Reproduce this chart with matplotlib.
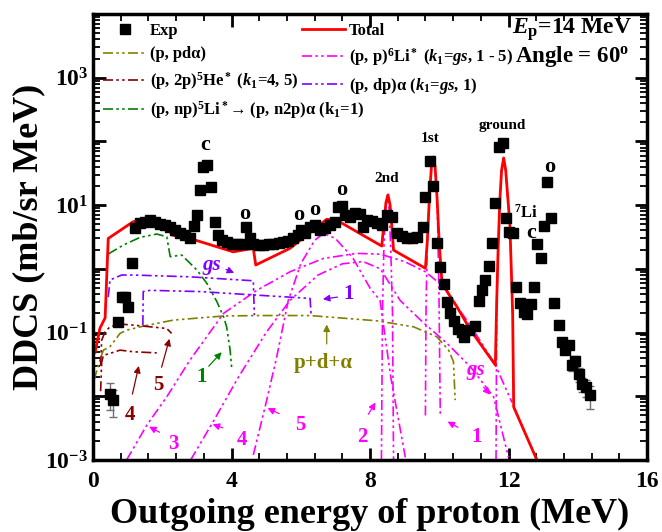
import matplotlib
matplotlib.use("Agg")
import matplotlib.pyplot as plt
from matplotlib.lines import Line2D
from matplotlib.ticker import LogLocator, MultipleLocator, NullFormatter

plt.rcParams.update({
    "font.family": "Liberation Serif",
    "font.weight": "bold",
    "mathtext.fontset": "custom",
    "mathtext.rm": "Liberation Serif:bold",
    "mathtext.it": "Liberation Serif:bold:italic",
    "mathtext.bf": "Liberation Serif:bold",
})

# experimental data (MeV, mb/sr MeV)
exp_x = [0.49, 0.59, 0.71, 0.83, 0.92, 1.02, 1.12,
         1.21, 1.36, 1.50, 1.65, 1.79, 1.94, 2.08, 2.23, 2.37, 2.51, 2.66, 2.80,
         2.92, 3.00, 3.09, 3.19, 3.30, 3.40, 3.53, 3.62, 3.72, 3.86, 4.01, 4.15,
         4.30, 4.42, 4.52, 4.63, 4.78, 4.92, 5.07, 5.21, 5.36, 5.50, 5.64, 5.79,
         5.93, 6.00, 6.13, 6.27, 6.42, 6.56, 6.71, 6.85, 6.99, 7.09, 7.19, 7.28,
         7.43, 7.57, 7.72, 7.81, 7.91, 8.05, 8.20, 8.34, 8.49, 8.63, 8.78, 8.92,
         9.07, 9.21, 9.36, 9.53, 9.60, 9.72, 9.82, 9.93, 10.03, 10.15, 10.22,
         10.32, 10.43, 10.53, 10.66, 10.72, 10.85, 11.04, 11.14, 11.23, 11.33,
         11.43, 11.52, 11.62, 11.72, 11.84, 11.94, 12.00, 12.13, 12.23, 12.32,
         12.44, 12.53, 12.65, 12.75, 12.82, 12.94, 13.02, 13.11, 13.23, 13.30,
         13.45, 13.55, 13.64, 13.74, 13.83, 13.93, 14.05, 14.12, 14.25, 14.34]
exp_y = [0.011, 0.0087, 0.145, 0.365, 0.36, 0.248, 1.22,
         4.3, 5.2, 5.5, 5.8, 5.5, 5.05, 4.9, 4.5, 4.1, 3.7, 3.4, 3.1,
         4.7, 7.0, 17.3, 40, 42.6, 19.5, 5.5, 3.4, 2.83, 2.67, 2.5, 2.45,
         2.5, 4.5, 3.1, 2.45, 2.36, 2.36, 2.45, 2.5, 2.57, 2.67, 2.76, 3.0,
         3.4, 4.1, 3.6, 4.6, 4.9, 4.1, 4.3, 4.9, 5.5, 9.2, 9.7, 7.0,
         6.6, 7.4, 7.2, 4.6, 5.8, 5.7, 5.3, 4.9, 7.0, 6.6, 3.6, 3.27,
         3.1, 3.0, 3.19, 4.5, 13.2, 49.8, 20, 2.57, 1.08, 0.58, 0.305,
         0.205, 0.153, 0.112, 0.103, 0.084, 0.109, 0.126, 0.315, 0.465, 0.667,
         1.1, 2.57, 10.7, 80.8, 93, 6.2, 3.83, 3.7, 0.51, 0.287,
         0.212, 0.195, 0.28, 0.52, 2.45, 1.46, 4.7, 23.3, 6.2, 0.29,
         0.131, 0.072, 0.054, 0.064, 0.031, 0.036, 0.0223, 0.0155, 0.0138, 0.0104]

# points that show error bars (relative error)
err_x = [0.49, 0.59, 8.63, 9.93, 10.03, 13.74, 13.83, 13.93, 14.05, 14.12, 14.25, 14.34]
err_y = [0.011, 0.0087, 6.6, 2.57, 1.08, 0.064, 0.031, 0.036, 0.0223, 0.0155, 0.0138, 0.0104]
err_rel = [0.45, 0.45, 0.12, 0.1, 0.1, 0.15, 0.2, 0.2, 0.25, 0.25, 0.3, 0.4]

# total calculation
total_x = [0.06, 0.2, 0.35, 0.44, 1.16, 1.60, 2.18, 2.27, 2.80, 4.05, 4.63, 4.70,
           5.69, 6.75, 7.04, 8.34, 8.40, 8.46, 8.52, 8.58, 8.64, 8.68, 9.60, 9.66,
           9.72, 9.78, 9.83, 9.88, 9.94, 10.00, 10.08, 10.51, 10.90, 11.62, 11.66,
           11.70, 11.75, 11.80, 11.86, 11.92, 11.98, 12.04, 12.08, 12.12, 12.15, 12.82]
total_y = [0.049, 0.117, 0.17, 3.0, 5.5, 6.0, 5.3, 3.4, 3.0, 1.85, 2.1, 1.15,
           2.1, 6.0, 5.8, 2.28, 5.0, 11, 14.5, 10, 4.0, 1.97, 1.02, 3.0,
           15, 45, 57, 40, 12, 2.5, 0.59, 0.254, 0.11, 0.031, 0.32,
           2.0, 12, 35, 55, 35, 13, 5.0, 1.0, 0.2, 0.0068, 0.001]

# (p, pd alpha)
pda_x = [0.03, 0.2, 0.30, 0.49, 0.78, 0.97, 1.45, 2.32, 3.77, 4.73, 6.27, 8.20,
         9.26, 9.93, 10.27, 10.41, 10.46]
pda_y = [0.018, 0.037, 0.053, 0.060, 0.097, 0.109, 0.126, 0.157, 0.182, 0.185,
         0.185, 0.153, 0.123, 0.086, 0.053, 0.035, 0.0087]

# (p, 2p)5He*  k1 = 5 (upper) and 4 (lower)
he5_x = [0.22, 0.25, 0.35, 0.49, 0.78, 1.16, 2.13, 2.27]
he5_y = [0.03, 0.076, 0.103, 0.123, 0.136, 0.131, 0.116, 0.097]
he4_x = [0.22, 0.25, 0.30, 0.49, 0.78, 1.16, 1.84]
he4_y = [0.012, 0.034, 0.044, 0.047, 0.053, 0.050, 0.048]

# (p, np)5Li* -> (p, n2p)alpha  k1 = 1
li5_x = [0.44, 0.88, 1.36, 1.84, 2.13, 2.23, 2.56, 3.00, 3.29, 3.58, 3.77, 3.86, 3.96, 4.01]
li5_y = [1.71, 2.37, 3.12, 3.52, 3.19, 1.55, 1.65, 0.96, 0.59, 0.304, 0.177, 0.123, 0.053, 0.026]

# (p, dp)alpha  k1 = gs and 1
dpa_gs_x = [0.44, 0.49, 0.83, 1.16, 2.80, 4.63, 4.66]
dpa_gs_y = [0.36, 0.67, 0.80, 0.80, 0.75, 0.65, 0.188]
dpa_1_x = [1.44, 1.45, 1.65, 3.09, 4.62, 6.27, 6.30]
dpa_1_y = [0.131, 0.44, 0.46, 0.44, 0.39, 0.344, 0.185]

# (p, p)6Li*  k1 = gs, 1, 2, 3, 4, 5
pp_gs_x = [11.64, 11.66, 11.70, 11.75, 11.80, 11.86, 11.92, 11.98, 12.04, 12.08, 12.12, 12.15, 12.82]
pp_gs_y = [0.001, 0.3, 2.0, 12, 35, 55, 35, 13, 5.0, 1.0, 0.2, 0.0068, 0.001]
pp_1_x = [9.60, 9.62, 9.66, 9.72, 9.78, 9.83, 9.88, 9.94, 9.99, 10.03]
pp_1_y = [0.005, 0.3, 3.0, 15, 45, 57, 40, 12, 0.5, 0.005]
pp_2_x = [8.33, 8.36, 8.40, 8.45, 8.50, 8.55, 8.60, 8.65, 8.68]
pp_2_y = [0.001, 0.2, 2.0, 9.0, 14, 9.0, 2.0, 0.2, 0.001]
pp_3_x = [0.97, 1.55, 2.13, 2.80, 3.77, 4.73, 5.69, 6.66, 7.62, 8.30, 9.00, 9.60,
          10.08, 10.90, 11.62, 12.10]
pp_3_y = [0.001, 0.0035, 0.0098, 0.037, 0.2, 0.46, 0.9, 1.46, 1.75, 1.7, 1.3, 0.9,
          0.55, 0.13, 0.031, 0.008]
pp_4_x = [2.82, 3.47, 4.20, 5.00, 5.69, 6.50, 7.20, 7.80, 8.30, 8.87, 9.50, 10.22,
          10.90, 11.57, 12.00]
pp_4_y = [0.001, 0.004, 0.02, 0.1, 0.32, 0.8, 1.2, 1.3, 1.0, 0.32, 0.15, 0.068,
          0.029, 0.0098, 0.0011]
pp_5_x = [4.63, 4.97, 5.30, 5.64, 6.00, 6.40, 6.66, 7.00, 7.50, 8.00, 8.29, 8.60, 9.02]
pp_5_y = [0.0012, 0.0068, 0.04, 0.32, 1.2, 2.8, 3.6, 3.0, 1.5, 0.5, 0.32, 0.02, 0.0011]

c_red = "#FF0000"
c_mag = "#FF00FF"
c_olive = "#808000"
c_dred = "#8B0000"
c_purple = "#8000FF"
c_green = "#008000"
dd = (0, (6, 2, 1.5, 2, 1.5, 2))  # dash-dot-dot

fig = plt.figure(figsize=(6.62, 5.32), dpi=100)
ax = fig.add_axes([93 / 662, 72 / 532, 554 / 662, 446 / 532])

lw = 1.2
for xs, ys in [(pp_gs_x, pp_gs_y), (pp_1_x, pp_1_y), (pp_2_x, pp_2_y),
               (pp_3_x, pp_3_y), (pp_4_x, pp_4_y), (pp_5_x, pp_5_y)]:
    ax.plot(xs, ys, color=c_mag, ls=dd, lw=lw)
ax.plot(pda_x, pda_y, color=c_olive, ls=dd, lw=lw)
ax.plot(he5_x, he5_y, color=c_dred, ls=dd, lw=lw)
ax.plot(he4_x, he4_y, color=c_dred, ls=dd, lw=lw)
ax.plot(li5_x, li5_y, color=c_green, ls=dd, lw=lw)
ax.plot(dpa_gs_x, dpa_gs_y, color=c_purple, ls=dd, lw=lw)
ax.plot(dpa_1_x, dpa_1_y, color=c_purple, ls=dd, lw=lw)
ax.plot(total_x, total_y, color=c_red, lw=2.0)

err_lo = [y * r for y, r in zip(err_y, err_rel)]
ax.errorbar(err_x, err_y, yerr=[err_lo, err_lo], fmt="none", ecolor="#707070",
            elinewidth=1, capsize=3)
ax.plot(exp_x, exp_y, "s", color="black", ms=7, ls="none")

ax.set_xlim(0, 16)
ax.set_yscale("log")
ax.set_ylim(1e-3, 1e4)
ax.xaxis.set_minor_locator(MultipleLocator(0.8))
ax.yaxis.set_minor_locator(LogLocator(base=10, subs=range(2, 10), numticks=20))
ax.yaxis.set_minor_formatter(NullFormatter())
ax.set_yticks([1e-3, 1e-2, 1e-1, 1, 10, 100, 1e3, 1e4])
ax.set_yticklabels(["$10^{-3}$", "", "$10^{-1}$", "", "$10^{1}$", "", "$10^{3}$", ""])
ax.set_xticks([0, 4, 8, 12, 16])
ax.set_xticklabels(["0", "4", "8", "12", "16"])
ax.tick_params(which="both", direction="in", top=True, right=True, labelsize=17)
ax.tick_params(axis="x", which="major", pad=8)
ax.tick_params(which="major", length=9, width=2)
ax.tick_params(which="minor", length=5, width=1.3)
for s in ax.spines.values():
    s.set_linewidth(2.5)

ax.set_xlabel("Outgoing energy of proton (MeV)", fontsize=26, fontweight="bold", labelpad=4)
ax.set_ylabel("DDCS (mb/sr MeV)", fontsize=26, fontweight="bold", labelpad=0)

# legends
fs = 12
h_exp = Line2D([], [], marker="s", color="black", ls="none", ms=7)
h_tot = Line2D([], [], color=c_red, lw=2.0)
h_pda = Line2D([], [], color=c_olive, ls=dd, lw=lw)
h_he = Line2D([], [], color=c_dred, ls=dd, lw=lw)
h_li5 = Line2D([], [], color=c_green, ls=dd, lw=lw)
h_pp = Line2D([], [], color=c_mag, ls=dd, lw=lw)
h_dpa = Line2D([], [], color=c_purple, ls=dd, lw=lw)
leg1 = ax.legend([h_exp, h_pda, h_he, h_li5],
                 ["Exp", "(p, pdα)", "(p, 2p)$^5$He$^*$ ($k_1$=4, 5)",
                  "(p, np)$^5$Li$^*$→ (p, n2p)α (k$_1$=1)"],
                 loc="upper left", bbox_to_anchor=(10 / 554, 0.98), frameon=False,
                 fontsize=fs, handlelength=2.6, handletextpad=0.2, labelspacing=0.45,
                 borderpad=0, borderaxespad=0)
ax.add_artist(leg1)
ax.legend([h_tot, h_pp, h_dpa],
          ["Total", "(p, p)$^6$Li$^*$ ($k_1$=$gs$, 1 - 5)", "(p, dp)α ($k_1$=$gs$, 1)"],
          loc="upper left", bbox_to_anchor=(209 / 554, 0.98), frameon=False,
          fontsize=fs, handlelength=2.6, handletextpad=0.2, labelspacing=0.45,
          borderpad=0, borderaxespad=0)

ax.text(0.973, 0.955, "$E_{\\mathrm{p}}$=14 MeV", transform=ax.transAxes, ha="right",
        va="baseline", fontsize=17)
ax.text(0.967, 0.893, "Angle = 60$^{\\mathrm{o}}$", transform=ax.transAxes, ha="right",
        va="baseline", fontsize=16.5)

# peak labels
for tx, ty, s, f in [(3.24, 87, "c", 16), (4.39, 7.2, "o", 16), (5.95, 7.0, "o", 16),
                     (6.39, 8.4, "o", 16), (7.19, 17.3, "o", 16), (8.47, 26.6, "2nd", 11),
                     (9.74, 112, "1st", 11), (11.81, 181, "ground", 11),
                     (12.49, 7.6, "$^7$Li", 12), (12.65, 3.6, "c", 16), (13.18, 39, "o", 16)]:
    ax.text(tx, ty, s, fontsize=f, ha="center", va="center")

arrow_labels = [
    # text, text pos, tail, head, colour, style
    ("gs", (3.43, 1.15), (3.77, 1.02), (4.15, 0.83), c_purple, "italic"),
    ("1", (7.38, 0.41), (7.14, 0.365), (6.56, 0.33), c_purple, "normal"),
    ("p+d+α", (6.66, 0.033), (6.75, 0.06), (6.75, 0.148), c_olive, "normal"),
    ("1", (3.14, 0.020), (3.29, 0.0276), (3.77, 0.053), c_green, "normal"),
    ("4", (1.07, 0.0051), (1.12, 0.0098), (1.34, 0.033), c_dred, "normal"),
    ("5", (1.89, 0.015), (1.96, 0.026), (2.23, 0.088), c_dred, "normal"),
    ("3", (2.32, 0.0018), (1.99, 0.0026), (1.55, 0.0035), c_mag, "normal"),
    ("4", (4.30, 0.00205), (3.82, 0.0031), (3.38, 0.00375), c_mag, "normal"),
    ("5", (5.98, 0.0035), (5.45, 0.0051), (4.97, 0.0068), c_mag, "normal"),
    ("2", (7.77, 0.0023), (7.91, 0.0048), (8.20, 0.0087), c_mag, "normal"),
    ("1", (11.09, 0.0023), (10.61, 0.0031), (10.17, 0.0042), c_mag, "normal"),
    ("gs", (11.04, 0.026), (11.23, 0.015), (11.52, 0.0098), c_mag, "italic"),
]
for s, tp, tail, head, col, st in arrow_labels:
    ax.annotate("", xy=head, xytext=tail,
                arrowprops=dict(arrowstyle="-|>", color=col, lw=0.9, mutation_scale=10))
    ax.text(tp[0], tp[1], s, color=col, fontsize=15, style=st, ha="center", va="center")

fig.savefig("out.png", dpi=100)
